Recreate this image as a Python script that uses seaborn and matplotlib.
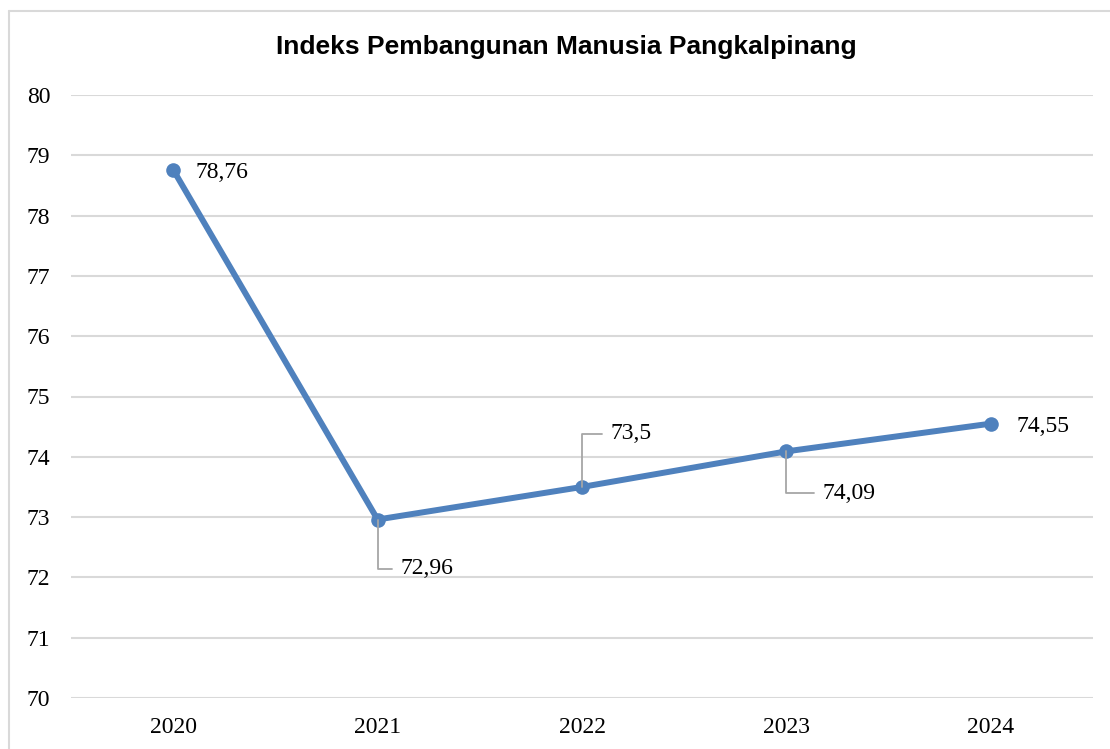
import matplotlib
matplotlib.use('Agg')
import matplotlib.pyplot as plt
from matplotlib.lines import Line2D
import pandas as pd
import seaborn as sns

years = ['2020', '2021', '2022', '2023', '2024']
ipm = [78.76, 72.96, 73.5, 74.09, 74.55]
y_ticks = [70, 71, 72, 73, 74, 75, 76, 77, 78, 79, 80]

# label offsets (pixels) and whether a leader line is drawn
label_offsets = [(22, -3), (23, -49), (29, 53), (36, -42), (26, -3)]
label_leader = [False, True, True, True, False]

df = pd.DataFrame({'Tahun': years, 'IPM': ipm})

sns.set_theme(style='white')
plt.rcParams['font.family'] = ['Liberation Serif', 'DejaVu Serif']

fig = plt.figure(figsize=(11.1, 7.49), dpi=100)
ax = fig.add_axes([71 / 1110, 1 - 698 / 749, (1093 - 71) / 1110, (698 - 95) / 749])

line_color = '#4F81BD'
sns.lineplot(data=df, x='Tahun', y='IPM', ax=ax, color=line_color, linewidth=4.3,
             marker='o', markersize=10.5, markeredgewidth=0, sort=False)

ax.set_xlim(-0.5, len(years) - 0.5)
ax.set_ylim(70, 80)
ax.set_yticks(y_ticks)
ax.set_yticklabels([str(t) for t in y_ticks])
ax.set_xticks(range(len(years)))
ax.set_xticklabels(years)
ax.yaxis.grid(True, color='#D9D9D9', linewidth=1.5)
ax.xaxis.grid(False)
ax.set_axisbelow(True)
for s in ax.spines.values():
    s.set_visible(False)
ax.tick_params(axis='y', length=0, pad=15, labelsize=17, colors='black')
ax.tick_params(axis='x', length=0, pad=14, labelsize=17, colors='black')
ax.set_xlabel('')
ax.set_ylabel('')

for i, (v, off, lead) in enumerate(zip(ipm, label_offsets, label_leader)):
    txt = str(v).replace('.', ',')
    if lead:
        ax.annotate(txt, xy=(i, v), xytext=off, textcoords='offset pixels',
                    ha='left', va='center', fontsize=17, color='black',
                    arrowprops=dict(arrowstyle='-', color='#A6A6A6', linewidth=1.3,
                                    connectionstyle='angle,angleA=0,angleB=90,rad=0',
                                    shrinkA=4, shrinkB=0))
    else:
        ax.annotate(txt, xy=(i, v), xytext=off, textcoords='offset pixels',
                    ha='left', va='center', fontsize=17, color='black')

fig.text(566 / 1110, 1 - 47 / 749, 'Indeks Pembangunan Manusia Pangkalpinang',
         ha='center', va='center', fontsize=19, fontweight='bold',
         family=['Liberation Sans', 'DejaVu Sans'], color='black')

# chart frame (only top and left edges are visible in the reference)
fig.add_artist(Line2D([9 / 1110, 9 / 1110], [0, 1 - 11 / 749], transform=fig.transFigure,
                      color='#D9D9D9', linewidth=1.5))
fig.add_artist(Line2D([9 / 1110, 1], [1 - 11 / 749, 1 - 11 / 749], transform=fig.transFigure,
                      color='#D9D9D9', linewidth=1.5))

fig.savefig('out.png', dpi=100)
